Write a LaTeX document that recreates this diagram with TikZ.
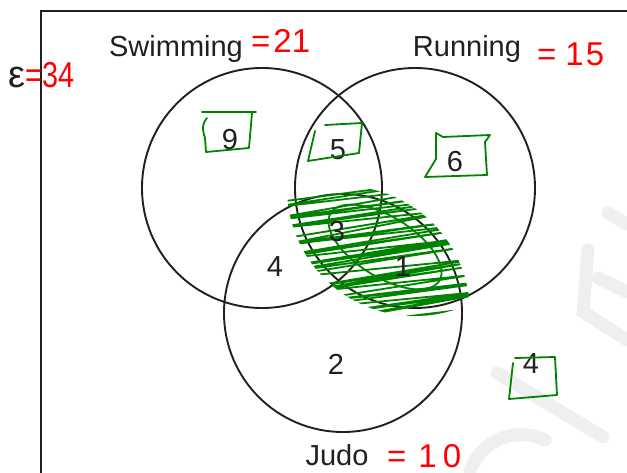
\documentclass[tikz,border=0pt]{standalone}
\usepackage{fontspec}
\setmainfont{Liberation Sans}
\usepackage{graphicx}
\usetikzlibrary{positioning}

\definecolor{inkgreen}{RGB}{0,132,0}
\definecolor{inkred}{RGB}{255,0,0}
\definecolor{printgray}{RGB}{35,31,32}
\definecolor{wmgray}{RGB}{239,239,239}

\begin{document}
\begin{tikzpicture}[x=1pt, y=-1pt,
  setcircle/.style={draw=printgray, line width=1.9pt, circle, minimum size=240pt, inner sep=0pt},
  lbl/.style={text=printgray, font=\fontsize{29}{30}\selectfont, inner sep=0pt, anchor=base},
  tally/.style={text=inkred, font=\fontsize{33}{34}\selectfont, inner sep=0pt, anchor=base west},
  markbox/.style={draw=inkgreen, line width=1.8pt, line join=round, line cap=round},
  scribble/.style={draw=inkgreen, line width=1.8pt, line join=round},
  wm/.style={draw=wmgray, line width=13pt, line cap=round},
  frame/.style={draw=printgray, line width=2.2pt}
]
\useasboundingbox (0,0) rectangle (627,473);

% faint watermark
\draw[wm] (608,213) -- (627,224);
\draw[wm] (588,250) -- (583,312) -- (627,340);
\draw[wm] (598,278) -- (627,292);
\draw[wm] (497,373) -- (603,437);
\draw[wm] (470,470) .. controls (485,435) and (520,428) .. (545,440);

% universal set
\draw[frame] (41,473) -- (41,11) -- (627,11);

% sets
\node[setcircle] (swim) at (262,188) {};
\node[setcircle] (run) at (415,188) {};
\node[setcircle, minimum size=238pt] (judo) at (343,313) {};

% shading of running and judo
\begin{scope}
  \clip (run.center) circle[radius=128pt];
  \clip (judo.center) circle[radius=127pt];
  \pgfmathsetseed{11}
  \draw[scribble] (255,205) \foreach \k in {0,...,24} {
    -- ({470+8*rand},{178+5.6*\k+5*rand}) -- ({255+8*rand},{212+5.6*\k+5*rand}) };
\end{scope}
\draw[scribble, rotate around={-32:(385,247)}] (385,247) ellipse[x radius=64pt, y radius=30pt];

% set labels
\node[lbl] (swimlbl) at (176,57) {Swimming};
\node[lbl] (runlbl) at (467,57) {Running};
\node[lbl] (judolbl) at (337,465) {Judo};
\node[lbl, font=\fontsize{38}{38}\selectfont] (eps) at (17,88) {ε};

% region counts
\node[lbl] (nS) at (230,150) {9};
\node[lbl] (nSR) at (338,160) {5};
\node[lbl] (nR) at (455,172) {6};
\node[lbl] (nSRJ) at (337,242) {3};
\node[lbl] (nSJ) at (275,277) {4};
\node[lbl] (nRJ) at (403,277) {1};
\node[lbl] (nJ) at (336,374) {2};
\node[lbl] (nNone) at (531,373) {4};

% handwritten totals
\node[tally, font=\fontsize{36}{36}\selectfont] (totE) at (25,88) {\scalebox{0.8}[1]{=34}};
\node[tally] (totS) at (251,53) {=\hspace{3pt}21};
\node[tally] (totR) at (537,66) {=\hspace{9pt}1\hspace{2pt}5};
\node[tally] (totJ) at (387,467) {=\hspace{12pt}1\hspace{6pt}0};

% ticked boxes
\draw[markbox] (202,112) -- (256,112);
\draw[markbox] (207,118) .. controls (200,126) and (204,134) .. (205,138) -- (206,152) -- (249,148) -- (252,113);
\draw[markbox] (325,125) -- (362,123) -- (359,153) -- (308,161) -- (315,131);
\draw[markbox] (436,133) -- (443,137) -- (490,135) -- (485,142) -- (487,175) -- (425,177) -- (436,159) -- cycle;
\draw[markbox] (515,358) -- (555,357) -- (557,395) -- (509,399) -- (513,363);

\end{tikzpicture}
\end{document}
